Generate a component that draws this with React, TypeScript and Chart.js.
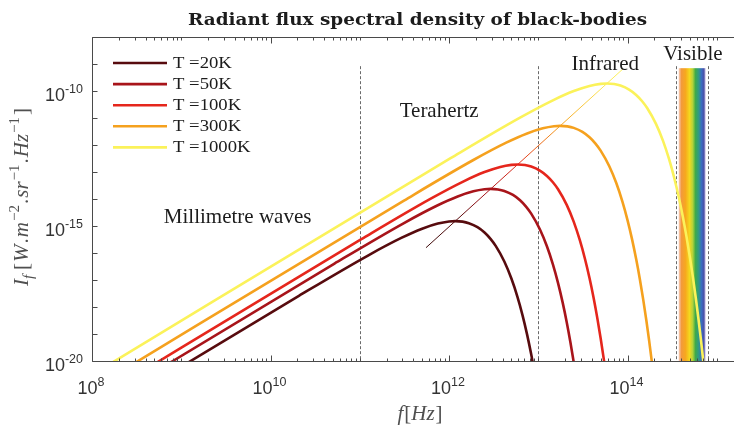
import React, { useEffect, useRef } from "react";
import { Chart, registerables } from "chart.js";

Chart.register(...registerables);

// ---------------- data ----------------
const seriesLabels = ["T =20K", "T =50K", "T =100K", "T =300K", "T =1000K"];
const seriesColors = ["#570b0e", "#a8141a", "#e5261c", "#f5a11e", "#fbf25a"];

const freq20 = [1e8, 2.08e10, 1.25e11, 2.92e11, 5.0e11, 7.5e11, 1.0e12, 1.175e12, 1.417e12, 1.667e12, 2.084e12, 2.5e12, 2.917e12, 3.334e12, 4.167e12, 5.0e12, 5.834e12, 6.668e12, 7.501e12, 8.335e12, 9.168e12];
const flux20 = [6.13e-23, 2.6e-18, 8.24e-17, 3.61e-16, 7.95e-16, 1.23e-15, 1.47e-15, 1.52e-15, 1.45e-15, 1.27e-15, 9.05e-16, 5.73e-16, 3.34e-16, 1.83e-16, 4.85e-17, 1.13e-17, 2.43e-18, 4.92e-19, 9.48e-20, 1.76e-20, 3.17e-21];

const freq50 = [1e8, 5.21e10, 3.13e11, 7.29e11, 1.25e12, 1.875e12, 2.5e12, 2.938e12, 3.542e12, 4.167e12, 5.209e12, 6.251e12, 7.293e12, 8.335e12, 1.042e13, 1.25e13, 1.459e13, 1.667e13, 1.875e13, 2.084e13, 2.292e13, 2.5e13];
const flux50 = [1.53e-22, 4.07e-17, 1.29e-15, 5.64e-15, 1.24e-14, 1.93e-14, 2.3e-14, 2.37e-14, 2.26e-14, 1.99e-14, 1.41e-14, 8.95e-15, 5.22e-15, 2.86e-15, 7.57e-16, 1.77e-16, 3.8e-17, 7.69e-18, 1.48e-18, 2.75e-19, 4.95e-20, 8.7e-21];

const freq100 = [1e8, 1.042e11, 6.25e11, 1.459e12, 2.5e12, 3.751e12, 5.0e12, 5.876e12, 7.085e12, 8.335e12, 1.042e13, 1.25e13, 1.459e13, 1.667e13, 2.084e13, 2.5e13, 2.917e13, 3.334e13, 3.751e13, 4.167e13, 4.584e13, 5.0e13, 5.418e13, 5.834e13];
const flux100 = [3.07e-22, 3.25e-16, 1.03e-14, 4.51e-14, 9.94e-14, 1.54e-13, 1.84e-13, 1.9e-13, 1.81e-13, 1.59e-13, 1.13e-13, 7.16e-14, 4.18e-14, 2.29e-14, 6.06e-15, 1.42e-15, 3.04e-16, 6.15e-17, 1.18e-17, 2.2e-18, 3.96e-19, 6.96e-20, 1.2e-20, 2.02e-21];

const freq300 = [1e8, 3.13e11, 1.875e12, 4.376e12, 7.501e12, 1.125e13, 1.5e13, 1.763e13, 2.125e13, 2.5e13, 3.126e13, 3.751e13, 4.376e13, 5.0e13, 6.251e13, 7.501e13, 8.752e13, 1.0e14, 1.125e14, 1.25e14, 1.375e14, 1.5e14, 1.625e14, 1.75e14, 1.875e14, 2.0e14];
const flux300 = [9.2e-22, 8.78e-15, 2.78e-13, 1.22e-12, 2.68e-12, 4.16e-12, 4.97e-12, 5.12e-12, 4.89e-12, 4.3e-12, 3.05e-12, 1.93e-12, 1.13e-12, 6.19e-13, 1.64e-13, 3.82e-14, 8.22e-15, 1.66e-15, 3.2e-16, 5.94e-17, 1.07e-17, 1.88e-18, 3.23e-19, 5.47e-20, 9.1e-21, 1.5e-21];

const freq1000 = [1e8, 1.042e12, 6.251e12, 1.459e13, 2.5e13, 3.751e13, 5.0e13, 5.876e13, 7.085e13, 8.335e13, 1.042e14, 1.25e14, 1.459e14, 1.667e14, 2.084e14, 2.5e14, 2.917e14, 3.334e14, 3.751e14, 4.167e14, 4.584e14, 5.0e14, 5.418e14, 5.834e14, 6.251e14, 6.668e14, 7.085e14, 7.501e14];
const flux1000 = [3.07e-21, 3.25e-13, 1.03e-11, 4.51e-11, 9.94e-11, 1.54e-10, 1.84e-10, 1.9e-10, 1.81e-10, 1.59e-10, 1.13e-10, 7.16e-11, 4.18e-11, 2.29e-11, 6.06e-12, 1.42e-12, 3.04e-13, 6.15e-14, 1.18e-14, 2.2e-15, 3.96e-16, 6.96e-17, 1.2e-17, 2.02e-18, 3.37e-19, 5.54e-20, 8.99e-21, 1.44e-21];

// locus of the maxima (Wien)
const wienFreq = [5.52e11, 8.81e13];
const wienFlux = [1.57e-16, 6.4e-10];

// axes
const xMin = 1e8;
const xMax = 1.56e15;
const yMin = 1e-20;
const yMax = 1e-8;
const xTickExponents = ["8", "10", "12", "14"];
const yTickExponents = ["-20", "-15", "-10"];

// spectral regions
const regionLineFreqs = [1e11, 1e13, 3.5e14, 7.9e14];
const regionLineTop = 8.3e-10;
const visibleBand = [3.75e14, 7.5e14];
const visibleBandTop = 7e-10;
const regionLabels = ["Millimetre waves", "Terahertz", "Infrared", "Visible"];
const regionLabelFreqs = [4.28e9, 7.76e11, 5.64e13, 5.4e14];
const regionLabelFlux = [1.29e-15, 1.09e-11, 6.0e-10, 1.41e-9];

const chartTitle = "Radiant flux spectral density of black-bodies";

// ---------------- drawing helpers ----------------
const AXIS = "#4a4a4a";
const TEXT = "#1c1c1c";
const LABEL_GREY = "#505050";
const SERIF = '"Liberation Serif", "Times New Roman", serif';
const SANS = '"Liberation Sans", Arial, sans-serif';

type Part = { t: string; italic?: boolean; pos?: "sup" | "sub"; gap?: number };

function fontOf(p: Part, size: number, small: number, family: string) {
  return `${p.italic ? "italic " : ""}${p.pos ? small : size}px ${family}`;
}
function partsWidth(ctx: CanvasRenderingContext2D, parts: Part[], size: number, small: number, family: string) {
  let w = 0;
  for (const p of parts) {
    ctx.font = fontOf(p, size, small, family);
    w += ctx.measureText(p.t).width + (p.gap || 0);
  }
  return w;
}
function drawParts(
  ctx: CanvasRenderingContext2D,
  parts: Part[],
  x: number,
  y: number,
  size: number,
  small: number,
  family: string,
  supOff: number,
  subOff: number
) {
  let cx = x;
  ctx.textAlign = "left";
  ctx.textBaseline = "alphabetic";
  for (const p of parts) {
    ctx.font = fontOf(p, size, small, family);
    const dy = p.pos === "sup" ? -supOff : p.pos === "sub" ? subOff : 0;
    ctx.fillText(p.t, cx, y + dy);
    cx += ctx.measureText(p.t).width + (p.gap || 0);
  }
}

const yTitleParts: Part[] = [
  { t: "I", italic: true },
  { t: "f", italic: true, pos: "sub", gap: 5 },
  { t: "[", gap: 1 },
  { t: "W", italic: true, gap: 1 },
  { t: ".", gap: 1 },
  { t: "m", italic: true, gap: 1 },
  { t: "\u22122", pos: "sup", gap: 1 },
  { t: ".", gap: 1 },
  { t: "sr", italic: true, gap: 1 },
  { t: "\u22121", pos: "sup", gap: 1 },
  { t: ".", gap: 1 },
  { t: "Hz", italic: true, gap: 1 },
  { t: "\u22121", pos: "sup", gap: 2 },
  { t: "]" },
];
const xTitleParts: Part[] = [
  { t: "f", italic: true, gap: 1 },
  { t: "[" },
  { t: "Hz", italic: true, gap: 1 },
  { t: "]" },
];

const rainbowStops: [number, string][] = [
  [0.0, "rgba(240,160,120,0.55)"],
  [0.1, "#f39a3c"],
  [0.25, "#f7a81e"],
  [0.4, "#f3d81e"],
  [0.52, "#b2d23a"],
  [0.62, "#3faa48"],
  [0.74, "#2f9a86"],
  [0.85, "#3a6cc0"],
  [0.94, "#4d4fa6"],
  [1.0, "rgba(140,130,200,0.45)"],
];

const decorPlugin = {
  id: "decor",
  beforeDatasetsDraw(chart: any) {
    const { ctx, chartArea: a, scales } = chart;
    const x = scales.x;
    const y = scales.y;
    ctx.save();
    // visible band
    const bx0 = x.getPixelForValue(visibleBand[0]);
    const bx1 = x.getPixelForValue(visibleBand[1]);
    const bt = y.getPixelForValue(visibleBandTop);
    const g = ctx.createLinearGradient(bx0, 0, bx1, 0);
    rainbowStops.forEach(([s, c]) => g.addColorStop(s, c));
    ctx.fillStyle = g;
    ctx.fillRect(bx0, bt, bx1 - bx0, a.bottom - bt);
    // dashed region limits
    ctx.strokeStyle = "#6a6a6a";
    ctx.lineWidth = 1;
    ctx.setLineDash([3, 2]);
    const top = y.getPixelForValue(regionLineTop);
    for (const f of regionLineFreqs) {
      const px = Math.round(x.getPixelForValue(f)) + 0.5;
      ctx.beginPath();
      ctx.moveTo(px, top);
      ctx.lineTo(px, a.bottom);
      ctx.stroke();
    }
    ctx.restore();
  },
  afterDatasetsDraw(chart: any) {
    const { ctx, chartArea: a, scales } = chart;
    const x = scales.x;
    const y = scales.y;
    ctx.save();
    ctx.setLineDash([]);
    // axes lines
    ctx.strokeStyle = AXIS;
    ctx.lineWidth = 1;
    const L = a.left + 0.5;
    const B = a.bottom + 0.5;
    const T = a.top + 0.5;
    ctx.beginPath();
    ctx.moveTo(a.right, T);
    ctx.lineTo(L, T);
    ctx.lineTo(L, B);
    ctx.lineTo(a.right, B);
    ctx.stroke();
    // x ticks (inward, bottom and top)
    ctx.beginPath();
    for (let e = 8; e <= 15; e++) {
      for (let m = 1; m <= 9; m++) {
        const v = m * Math.pow(10, e);
        if (v < xMin || v > xMax) continue;
        const px = Math.round(x.getPixelForValue(v)) + 0.5;
        const len = m === 1 && e % 2 === 0 ? 6 : 3;
        ctx.moveTo(px, B);
        ctx.lineTo(px, B - len);
        ctx.moveTo(px, T);
        ctx.lineTo(px, T + len);
      }
    }
    // y ticks (inward, left)
    for (let e = -20; e <= -8; e++) {
      const py = Math.round(y.getPixelForValue(Math.pow(10, e))) + 0.5;
      ctx.moveTo(L, py);
      ctx.lineTo(L + 5, py);
    }
    ctx.stroke();

    // tick labels
    ctx.fillStyle = "#333333";
    for (const ex of xTickExponents) {
      const parts: Part[] = [{ t: "10" }, { t: ex, pos: "sup" }];
      const w = partsWidth(ctx, parts, 18, 12.5, SANS);
      const px = x.getPixelForValue(Math.pow(10, Number(ex)));
      drawParts(ctx, parts, px - w / 2 - 1, a.bottom + 33, 18, 12.5, SANS, 8, 0);
    }
    for (const ex of yTickExponents) {
      const parts: Part[] = [{ t: "10" }, { t: ex, pos: "sup" }];
      const w = partsWidth(ctx, parts, 18, 12.5, SANS);
      const py = y.getPixelForValue(Math.pow(10, Number(ex)));
      drawParts(ctx, parts, a.left - 9 - w, py + 10, 18, 12.5, SANS, 8, 0);
    }

    // axis titles
    ctx.fillStyle = LABEL_GREY;
    const xtw = partsWidth(ctx, xTitleParts, 21, 14, SERIF);
    drawParts(ctx, xTitleParts, (a.left + a.right) / 2 + 7 - xtw / 2, 420, 21, 14, SERIF, 8, 4);
    ctx.save();
    ctx.translate(28, (a.top + a.bottom) / 2 - 2);
    ctx.rotate(-Math.PI / 2);
    const ytw = partsWidth(ctx, yTitleParts, 21, 15, SERIF);
    drawParts(ctx, yTitleParts, -ytw / 2, 0, 21, 15, SERIF, 9, 5);
    ctx.restore();

    // region labels
    ctx.fillStyle = TEXT;
    ctx.font = `21px ${SERIF}`;
    ctx.textAlign = "center";
    ctx.textBaseline = "alphabetic";
    regionLabels.forEach((lab, i) => {
      ctx.fillText(lab, x.getPixelForValue(regionLabelFreqs[i]), y.getPixelForValue(regionLabelFlux[i]));
    });

    // legend
    const ds = chart.data.datasets.slice(0, seriesLabels.length);
    ds.forEach((d: any, i: number) => {
      const ly = a.top + 26 + 21.1 * i;
      ctx.strokeStyle = d.borderColor;
      ctx.lineWidth = 2.6;
      ctx.beginPath();
      ctx.moveTo(a.left + 21, ly);
      ctx.lineTo(a.left + 75, ly);
      ctx.stroke();
      ctx.fillStyle = TEXT;
      ctx.font = `17px ${SERIF}`;
      ctx.textAlign = "left";
      const tw0 = ctx.measureText(d.label).width;
      const want = tw0 * 1.1;
      ctx.save();
      ctx.translate(a.left + 81, ly + 5);
      ctx.scale(want / tw0, 1);
      ctx.fillText(d.label, 0, 0);
      ctx.restore();
    });

    // title
    ctx.font = `bold 17px "DejaVu Serif", serif`;
    const tw = ctx.measureText(chartTitle).width;
    const target = 459;
    ctx.save();
    ctx.translate(417.5, 25);
    ctx.scale(target / tw, 1);
    ctx.textAlign = "center";
    ctx.fillStyle = TEXT;
    ctx.fillText(chartTitle, 0, 0);
    ctx.restore();

    ctx.restore();
  },
};

export default function App() {
  const ref = useRef<HTMLCanvasElement | null>(null);
  useEffect(() => {
    const canvas = ref.current;
    if (!canvas) return;
    const freqs = [freq20, freq50, freq100, freq300, freq1000];
    const fluxes = [flux20, flux50, flux100, flux300, flux1000];
    const datasets: any[] = freqs.map((fs, i) => ({
      label: seriesLabels[i],
      data: fs.map((f, j) => ({ x: f, y: fluxes[i][j] })),
      borderColor: seriesColors[i],
      backgroundColor: seriesColors[i],
      borderWidth: 2.6,
      pointRadius: 0,
      fill: false,
      cubicInterpolationMode: "monotone",
      clip: 0,
    }));
    datasets.push({
      label: "Wien",
      data: wienFreq.map((f, j) => ({ x: f, y: wienFlux[j] })),
      borderWidth: 1,
      pointRadius: 0,
      fill: false,
      clip: 0,
      borderColor: (c: any) => {
        const ch = c.chart;
        const area = ch.chartArea;
        if (!area) return "#c03020";
        const sx = ch.scales.x;
        const sy = ch.scales.y;
        const x0 = sx.getPixelForValue(wienFreq[0]);
        const y0 = sy.getPixelForValue(wienFlux[0]);
        const x1 = sx.getPixelForValue(wienFreq[1]);
        const y1 = sy.getPixelForValue(wienFlux[1]);
        const g = ch.ctx.createLinearGradient(x0, y0, x1, y1);
        g.addColorStop(0, "#3c0a0a");
        g.addColorStop(0.17, "#5a0c0e");
        g.addColorStop(0.3, "#a8141a");
        g.addColorStop(0.47, "#e0301c");
        g.addColorStop(0.68, "#f5a11e");
        g.addColorStop(0.9, "#fbe85a");
        g.addColorStop(1, "#fbf25a");
        return g;
      },
    });

    const chart = new Chart(canvas, {
      type: "line",
      data: { datasets },
      options: {
        animation: false,
        responsive: false,
        devicePixelRatio: 1,
        layout: { padding: { left: 92, top: 37, right: 0, bottom: 67 } },
        plugins: { legend: { display: false }, tooltip: { enabled: false }, title: { display: false } },
        scales: {
          x: { type: "logarithmic", min: xMin, max: xMax, display: false },
          y: { type: "logarithmic", min: yMin, max: yMax, display: false },
        },
        elements: { line: { tension: 0 } },
      } as any,
      plugins: [decorPlugin],
    });
    return () => chart.destroy();
  }, []);

  return (
    <div style={{ position: "fixed", left: 0, top: 0, width: 734, height: 428, background: "#ffffff" }}>
      <canvas ref={ref} width={734} height={428} style={{ display: "block" }} />
    </div>
  );
}
